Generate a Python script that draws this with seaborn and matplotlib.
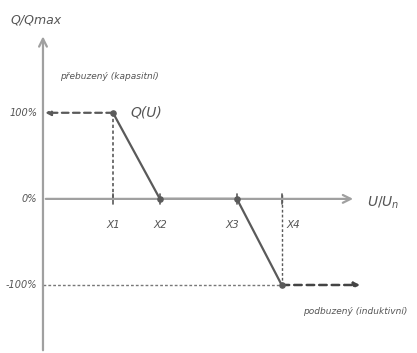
import numpy as np
import pandas as pd
import seaborn as sns
import matplotlib.pyplot as plt

# characteristic Q(U): voltage positions (relative units) and Q/Qmax in %
x_labels = ['X1', 'X2', 'X3', 'X4']
x_pos = [1.0, 1.67, 2.77, 3.41]
q_vals = [100, 0, 0, -100]
y_ticks = [100, 0, -100]
y_tick_labels = ['100%', '0%', '-100%']

sns.set_style('white')
plt.rcParams['font.family'] = ['DejaVu Sans']

fig = plt.figure(figsize=(4.17, 3.53), dpi=100)
ax = fig.add_axes([0, 0, 1, 1])
ax.set_xlim(-0.614, 5.343)
ax.set_ylim(-179, 231)
ax.axis('off')

axis_col = '#a0a0a0'
line_col = '#5a5a5a'
txt_col = '#555555'

# axes with arrows
ax.annotate('', xy=(4.47, 0), xytext=(0, 0),
            arrowprops=dict(arrowstyle='->', color=axis_col, lw=1.6, mutation_scale=14))
ax.annotate('', xy=(0, 192), xytext=(0, -179),
            arrowprops=dict(arrowstyle='->', color=axis_col, lw=1.6, mutation_scale=14))

# tick marks on the x axis
for xp in x_pos:
    ax.plot([xp, xp], [-6, 6], color=line_col, lw=1.2)

# dashed guides
ax.plot([x_pos[0], x_pos[0]], [q_vals[0], 0], color=line_col, lw=1.2, ls=(0, (2, 1.5)))
ax.plot([x_pos[3], x_pos[3]], [q_vals[3], 6], color=line_col, lw=1.0, ls=(0, (2, 1.5)))
ax.plot([0, x_pos[3]], [q_vals[3], q_vals[3]], color='#777777', lw=1.0, ls=(0, (2, 1.5)))
ax.annotate('', xy=(0.03, q_vals[0]), xytext=(x_pos[0], q_vals[0]),
            arrowprops=dict(arrowstyle='-|>', color=line_col, lw=1.6, ls=(0, (3, 2)),
                            mutation_scale=8, shrinkA=0, shrinkB=0))
ax.annotate('', xy=(4.53, q_vals[3]), xytext=(x_pos[3], q_vals[3]),
            arrowprops=dict(arrowstyle='-|>', color='#444444', lw=1.8, ls=(0, (3, 2)),
                            mutation_scale=8, shrinkA=0, shrinkB=0))

# the characteristic itself
df = pd.DataFrame({'U': x_pos, 'Q': q_vals})
sns.lineplot(data=df, x='U', y='Q', ax=ax, color=line_col, lw=1.6, sort=False)
ax.scatter(x_pos, q_vals, s=14, color=line_col, zorder=5)
ax.set_xlim(-0.614, 5.343)
ax.set_ylim(-179, 231)
ax.axis('off')

# labels
for xp, lab in zip(x_pos, x_labels):
    dx = 0.17 if lab == 'X4' else -0.06 if lab == 'X3' else 0.0
    ax.text(xp + dx, -30, lab, ha='center', va='center', fontsize=7.5,
            style='italic', color=txt_col)
for yv, lab in zip(y_ticks, y_tick_labels):
    ax.text(-0.08, yv, lab, ha='right', va='center', fontsize=7,
            style='italic', color=txt_col)

ax.text(-0.46, 208, 'Q/Qmax', ha='left', va='center', fontsize=9,
        style='italic', color=txt_col)
ax.text(4.63, -4, r'$U/U_n$', ha='left', va='center', fontsize=10,
        color=txt_col)
ax.text(x_pos[0] + 0.25, 100, 'Q(U)', ha='left', va='center', fontsize=10,
        style='italic', color=txt_col)
ax.text(0.25, 142, 'přebuzený (kapasitní)', ha='left', va='center', fontsize=6.5,
        style='italic', color=txt_col)
ax.text(5.2, -131, 'podbuzený (induktivní)', ha='right', va='center', fontsize=6.5,
        style='italic', color=txt_col)

fig.savefig('out.png', dpi=100)
